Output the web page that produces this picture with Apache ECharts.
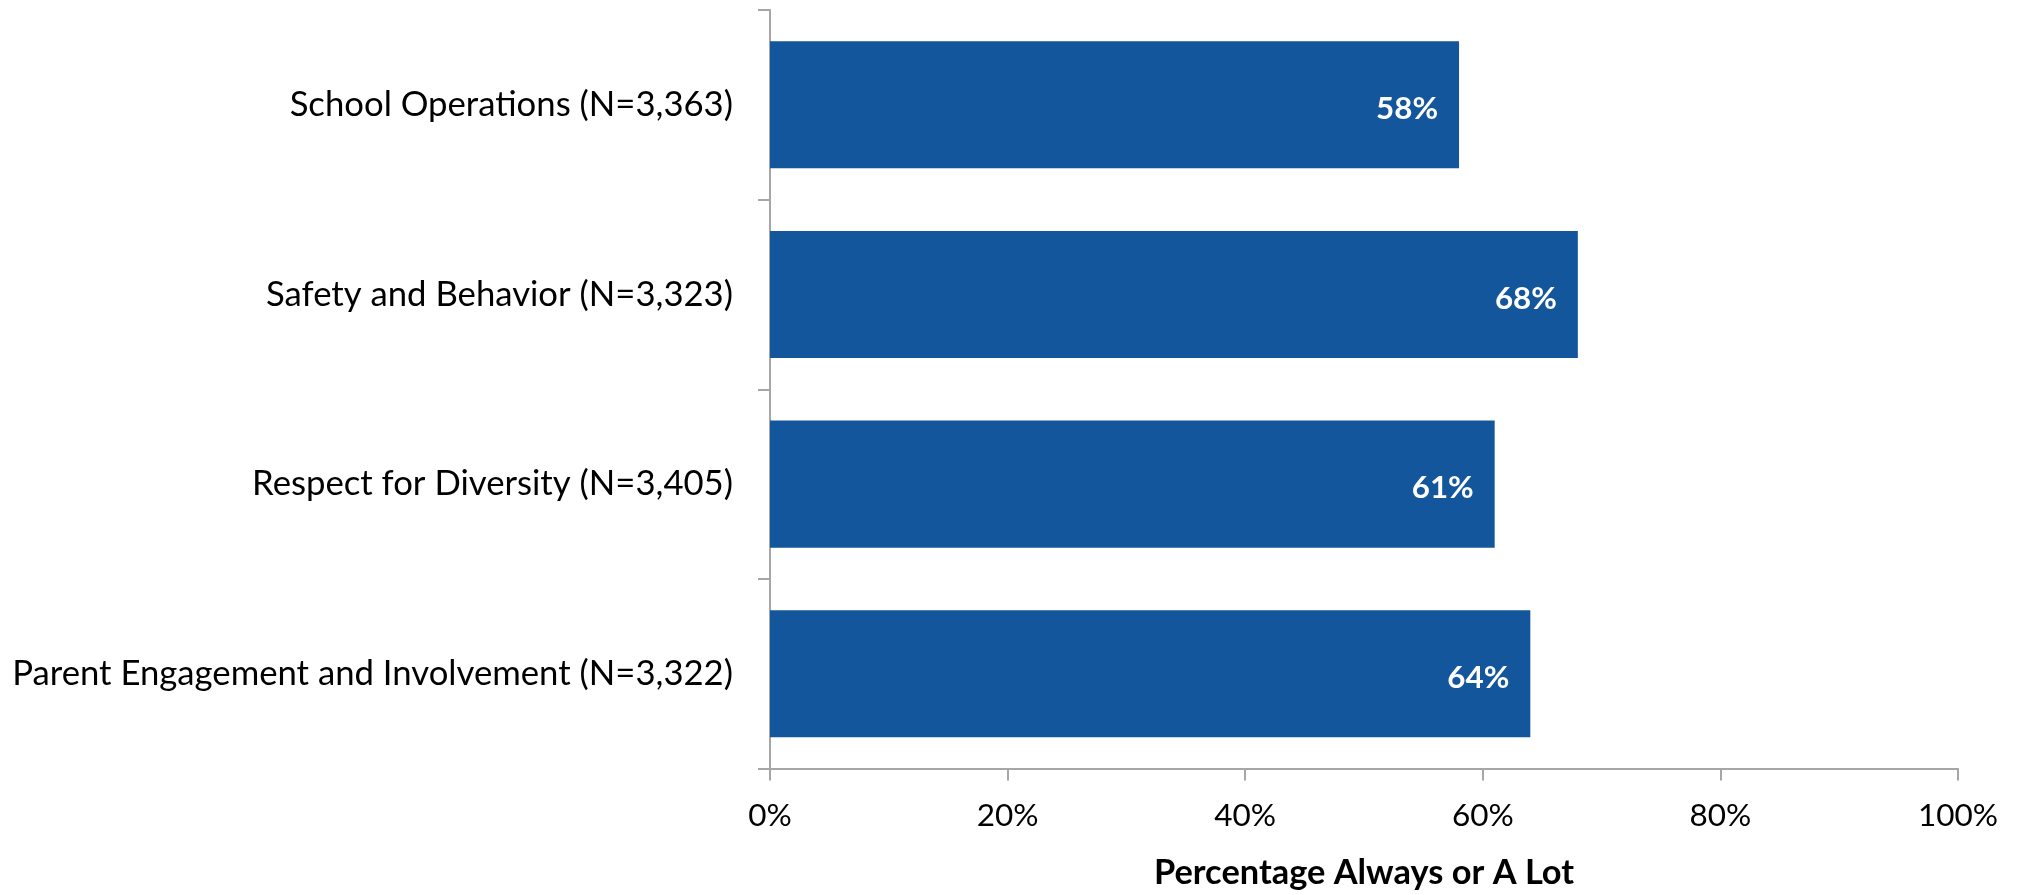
<!DOCTYPE html>
<html>
<head>
<meta charset="utf-8">
<script src="https://cdn.jsdelivr.net/npm/echarts@6/dist/echarts.min.js"></script>
<style>
html,body{margin:0;padding:0;background:#fff;}
#chart{width:2018px;height:895px;}
</style>
</head>
<body>
<div id="chart"></div>
<script>
const categories = [
  'School Operations (N=3,363)',
  'Safety and Behavior (N=3,323)',
  'Respect for Diversity (N=3,405)',
  'Parent Engagement and Involvement (N=3,322)'
];
const values = [58, 68, 61, 64];
const axisTitle = 'Percentage Always or A Lot';
const tickLabels = ['0%', '20%', '40%', '60%', '80%', '100%'];

const FONT = 'Lato';
const ctx = document.createElement('canvas').getContext('2d');
function fit(text, target, weight) {
  ctx.font = (weight || 'normal') + ' 100px ' + FONT;
  return Math.round(100 * target / ctx.measureText(text).width * 10) / 10;
}
const catSize = fit(categories[3], 721);
const tickSize = fit('100%', 80);
const nameSize = fit(axisTitle, 420, 'bold');
const valSize = fit('58%', 62, 'bold');

const axisColor = '#a6a6a6';
const chart = echarts.init(document.getElementById('chart'));
chart.setOption({
  animation: false,
  grid: { left: 770, right: 60, top: 10, bottom: 122 },
  xAxis: {
    type: 'value', min: 0, max: 100, interval: 20,
    axisLine: { show: true, lineStyle: { color: axisColor, width: 2 } },
    axisTick: { show: true, length: 12, lineStyle: { color: axisColor, width: 2 } },
    splitLine: { show: false },
    axisLabel: {
      formatter: v => tickLabels[v / 20], color: '#000', fontFamily: FONT,
      fontSize: tickSize, lineHeight: tickSize, margin: 31
    },
    name: axisTitle, nameLocation: 'middle', nameGap: 87,
    nameTextStyle: { fontFamily: FONT, fontWeight: 'bold', fontSize: nameSize, lineHeight: nameSize, color: '#000' }
  },
  yAxis: {
    type: 'category', data: categories, inverse: true,
    axisLine: { show: true, lineStyle: { color: axisColor, width: 2 } },
    axisTick: { show: true, length: 12, lineStyle: { color: axisColor, width: 2 } },
    axisLabel: { color: '#000', fontFamily: FONT, fontSize: catSize, margin: 37 }
  },
  series: [{
    type: 'bar', data: values, barCategoryGap: '33%',
    itemStyle: { color: '#13569b' },
    label: {
      show: true, position: 'insideRight', distance: 21, offset: [0, 4],
      formatter: p => p.value + '%', color: '#fff', fontFamily: FONT,
      fontWeight: 'bold', fontSize: valSize
    }
  }]
});
</script>
</body>
</html>
